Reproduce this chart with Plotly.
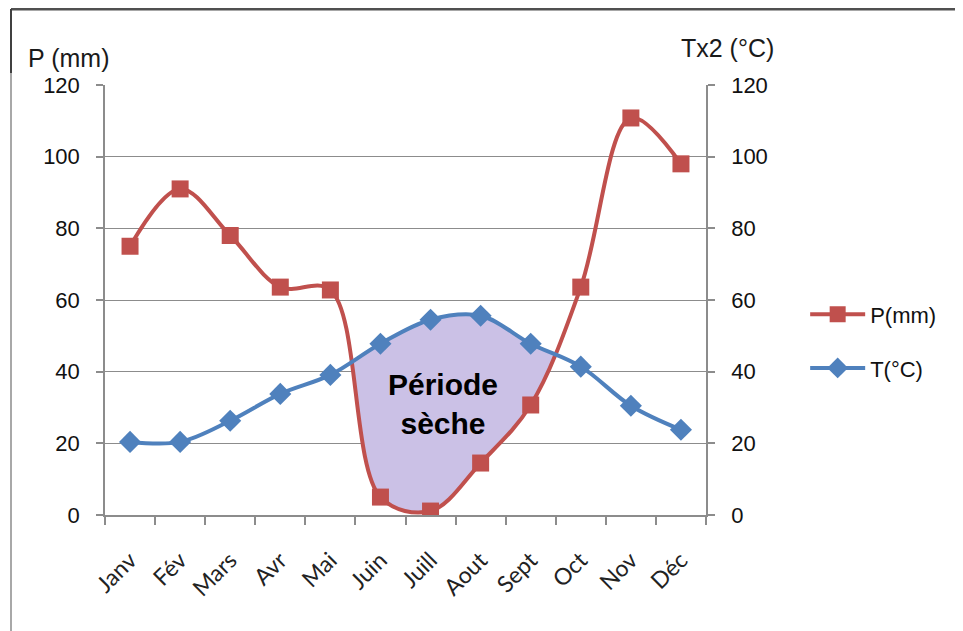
import numpy as np
import plotly.graph_objects as go

months = ["Janv", "Fév", "Mars", "Avr", "Mai", "Juin", "Juill", "Aout", "Sept", "Oct", "Nov", "Déc"]
precip_mm = [75, 91, 78, 63.6, 62.8, 5, 1.1, 14.5, 30.7, 63.6, 110.8, 98]
temp_x2 = [20.4, 20.4, 26.3, 33.8, 39.1, 47.8, 54.5, 55.6, 47.8, 41.4, 30.5, 23.8]
yticks = [0, 20, 40, 60, 80, 100, 120]

# page body has an 8px margin: size the figure so that it fills the window
OFF = 8
W, H = 963 - OFF, 631 - OFF
ML, MT = 105 - OFF, 85 - OFF
PW, PH = 601, 430
MR, MB = W - ML - PW, H - MT - PH
XR = (-0.5, 11.5)
YR = (0, 120)
sx = PW / (XR[1] - XR[0])
sy = PH / (YR[1] - YR[0])

RED = "#C0504D"
BLUE = "#4F81BD"
FILL = "#CBC1E6"
GRID = "#8C8C8C"


def plotly_spline(xs, ys, n=60, smooth=1.0):
    """Replicates plotly's spline path (centripetal Catmull-Rom in pixel space)."""
    pts = np.column_stack([np.asarray(xs, float) * sx, -np.asarray(ys, float) * sy])
    tang = []
    for i in range(1, len(pts) - 1):
        d1 = pts[i - 1] - pts[i]
        d2 = pts[i + 1] - pts[i]
        a1 = np.hypot(*d1) ** 0.5
        a2 = np.hypot(*d2) ** 0.5
        num = (a2 * a2 * d1 - a1 * a1 * d2) * smooth
        den1 = 3 * a2 * (a1 + a2)
        den2 = 3 * a1 * (a1 + a2)
        tang.append((pts[i] + num / den1, pts[i] - num / den2))
    t = np.linspace(0, 1, n)[:, None]
    segs = []
    p0, c, p1 = pts[0], tang[0][0], pts[1]
    segs.append((1 - t) ** 2 * p0 + 2 * (1 - t) * t * c + t ** 2 * p1)
    for i in range(2, len(pts) - 1):
        p0, c1, c2, p1 = pts[i - 1], tang[i - 2][1], tang[i - 1][0], pts[i]
        segs.append((1 - t) ** 3 * p0 + 3 * (1 - t) ** 2 * t * c1 + 3 * (1 - t) * t ** 2 * c2 + t ** 3 * p1)
    p0, c, p1 = pts[-2], tang[-1][1], pts[-1]
    segs.append((1 - t) ** 2 * p0 + 2 * (1 - t) * t * c + t ** 2 * p1)
    arr = np.vstack(segs)
    return arr[:, 0] / sx, -arr[:, 1] / sy


xi = list(range(len(months)))
px_, py_ = plotly_spline(xi, precip_mm)
tx_, ty_ = plotly_spline(xi, temp_x2)
grid = np.linspace(0, len(months) - 1, 3000)
pg = np.interp(grid, px_, py_)
tg = np.interp(grid, tx_, ty_)
idx = np.where(tg > pg)[0]
runs = np.split(idx, np.where(np.diff(idx) != 1)[0] + 1)
run = max(runs, key=len)
fx = np.concatenate([grid[run], grid[run][::-1]])
fy = np.concatenate([tg[run], pg[run][::-1]])

fig = go.Figure()
fig.add_trace(go.Scatter(x=fx, y=fy, mode="lines", fill="toself", fillcolor=FILL,
                         line=dict(width=0), showlegend=False, hoverinfo="skip"))
fig.add_trace(go.Scatter(x=xi, y=precip_mm, name="P(mm)", mode="lines+markers",
                         line=dict(color=RED, width=4, shape="spline"),
                         marker=dict(symbol="square", size=17, color=RED),
                         legendgroup="p"))
fig.add_trace(go.Scatter(x=xi, y=temp_x2, name="T(°C)", mode="lines+markers", yaxis="y2",
                         line=dict(color=BLUE, width=4, shape="spline"),
                         marker=dict(symbol="diamond", size=17, color=BLUE),
                         legendgroup="t"))

tickfont = dict(family="Liberation Sans, Arial", size=22, color="#111111")

fig.update_layout(
    width=W, height=H,
    margin=dict(l=ML, r=MR, t=MT, b=MB, pad=0),
    paper_bgcolor="white", plot_bgcolor="white",
    showlegend=True,
    legend=dict(x=1.165, y=0.515, xanchor="left", yanchor="top",
                font=dict(family="Liberation Sans, Arial", size=22, color="#111111"),
                tracegroupgap=22, itemwidth=55, bgcolor="rgba(0,0,0,0)"),
    xaxis=dict(range=list(XR), tickmode="array", tickvals=xi, ticktext=months,
               tickangle=-45, ticks="", showgrid=False, zeroline=False,
               showline=True, linecolor=GRID, linewidth=1.5,
               ticklabelstandoff=21,
               tickfont=dict(family="Lato, Open Sans", size=23, color="#222222"),
               minor=dict(tick0=-0.5, dtick=1, ticks="outside", ticklen=8,
                          tickcolor=GRID, tickwidth=1.5, showgrid=False)),
    yaxis=dict(range=list(YR), tickmode="array", tickvals=yticks,
               showgrid=True, gridcolor=GRID, gridwidth=1.3, zeroline=False,
               showline=True, linecolor=GRID, linewidth=1.5,
               ticks="outside", ticklen=7, tickcolor=GRID, tickwidth=1.5,
               ticklabelstandoff=12, tickfont=tickfont),
    yaxis2=dict(range=list(YR), tickmode="array", tickvals=yticks, overlaying="y",
                side="right", showgrid=False, zeroline=False,
                showline=True, linecolor=GRID, linewidth=1.5,
                ticks="outside", ticklen=7, tickcolor=GRID, tickwidth=1.5,
                ticklabelstandoff=12, tickfont=tickfont),
)


def px2paper_x(px):
    return (px - OFF - ML) / PW


def px2paper_y(py):
    return (H - MB - (py - OFF)) / PH


fig.add_annotation(text="P (mm)", xref="paper", yref="paper",
                   x=px2paper_x(26), y=px2paper_y(58), xanchor="left", yanchor="middle",
                   showarrow=False, font=dict(family="Liberation Sans, Arial", size=25, color="#1a1a1a"))
fig.add_annotation(text="Tx2 (°C)", xref="paper", yref="paper",
                   x=px2paper_x(679), y=px2paper_y(48), xanchor="left", yanchor="middle",
                   showarrow=False, font=dict(family="Liberation Sans, Arial", size=25, color="#1a1a1a"))
fig.add_annotation(text="<b>Période<br>sèche</b>", x=6.25, y=31, xref="x", yref="y",
                   showarrow=False, align="center",
                   font=dict(family="Liberation Sans, Arial", size=30, color="black"))

# outer chart frame (partly visible)
fig.add_shape(type="line", xref="paper", yref="paper",
              x0=px2paper_x(11), x1=px2paper_x(W + 20), y0=px2paper_y(9), y1=px2paper_y(9),
              line=dict(color="#505050", width=3))
fig.add_shape(type="line", xref="paper", yref="paper",
              x0=px2paper_x(11), x1=px2paper_x(11), y0=px2paper_y(9), y1=px2paper_y(H + 20),
              line=dict(color="#A8A8A8", width=2))
fig.add_shape(type="line", xref="paper", yref="paper",
              x0=px2paper_x(11), x1=px2paper_x(11), y0=px2paper_y(9), y1=px2paper_y(73),
              line=dict(color="#404040", width=2))

fig.write_html("out.html")
